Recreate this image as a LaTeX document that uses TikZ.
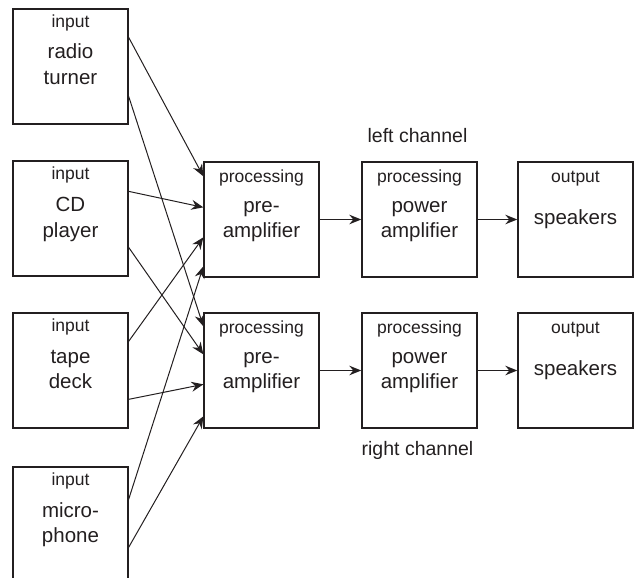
\documentclass[tikz,border=0pt]{standalone}
\usepackage{fontspec}
\setmainfont{Liberation Sans}
\usetikzlibrary{arrows.meta,calc}
\definecolor{ink}{RGB}{35,31,32}
\begin{document}
\begin{tikzpicture}[x=1pt,y=1pt,
  box/.style={draw=ink,line width=1.3pt,minimum width=115pt,minimum height=115pt,inner sep=0pt,fill=none},
  small/.style={anchor=base,inner sep=0pt,text=ink,font=\fontsize{17.5}{20}\selectfont},
  big/.style={anchor=base,inner sep=0pt,text=ink,font=\fontsize{20.5}{24}\selectfont},
  feed/.style={draw=ink,line width=1pt,-{Stealth[length=12pt,width=10pt,inset=4pt]}},
  chain/.style={draw=ink,line width=1.8pt,-{Stealth[length=12pt,width=9.5pt,inset=4pt]}}]
\useasboundingbox (0,0) rectangle (634,-581);
% input boxes
\node[box] (radio) at (70.5,-66.5) {};
\node[box] (cd) at (70.5,-218.5) {};
\node[box] (tape) at (70.5,-370.5) {};
\begin{scope}
\clip (0,0) rectangle (634,-577);
\node[box] (mic) at (70.5,-524.5) {};
\end{scope}
% processing and output boxes
\node[box] (preL) at (261.5,-219.5) {};
\node[box] (preR) at (261.5,-370.5) {};
\node[box] (powL) at (419.5,-219.5) {};
\node[box] (powR) at (419.5,-370.5) {};
\node[box] (spkL) at (575.5,-219.5) {};
\node[box] (spkR) at (575.5,-370.5) {};
% texts
\node[small] (radioK) at ($(radio.north)+(0,-19)$) {input};
\node[big] (radioA) at ($(radio.north)+(0,-50)$) {radio};
\node[big] (radioB) at ($(radio.north)+(0,-76)$) {turner};
\node[small] (cdK) at ($(cd.north)+(0,-19)$) {input};
\node[big] (cdA) at ($(cd.north)+(0,-51)$) {CD};
\node[big] (cdB) at ($(cd.north)+(0,-77)$) {player};
\node[small] (tapeK) at ($(tape.north)+(0,-19)$) {input};
\node[big] (tapeA) at ($(tape.north)+(0,-51)$) {tape};
\node[big] (tapeB) at ($(tape.north)+(0,-76)$) {deck};
\node[small] (micK) at ($(mic.north)+(0,-19)$) {input};
\node[big] (micA) at ($(mic.north)+(0,-51)$) {micro-};
\node[big] (micB) at ($(mic.north)+(0,-76)$) {phone};
\node[small] (preLK) at ($(preL.north)+(0,-21)$) {processing};
\node[big] (preLA) at ($(preL.north)+(0,-51)$) {pre-};
\node[big] (preLB) at ($(preL.north)+(0,-76)$) {amplifier};
\node[small] (preRK) at ($(preR.north)+(0,-21)$) {processing};
\node[big] (preRA) at ($(preR.north)+(0,-51)$) {pre-};
\node[big] (preRB) at ($(preR.north)+(0,-76)$) {amplifier};
\node[small] (powLK) at ($(powL.north)+(0,-21)$) {processing};
\node[big] (powLA) at ($(powL.north)+(0,-51)$) {power};
\node[big] (powLB) at ($(powL.north)+(0,-76)$) {amplifier};
\node[small] (powRK) at ($(powR.north)+(0,-21)$) {processing};
\node[big] (powRA) at ($(powR.north)+(0,-51)$) {power};
\node[big] (powRB) at ($(powR.north)+(0,-76)$) {amplifier};
\node[small] (spkLK) at ($(spkL.north)+(0,-21)$) {output};
\node[big] (spkLA) at ($(spkL.north)+(0,-63)$) {speakers};
\node[small] (spkRK) at ($(spkR.north)+(0,-21)$) {output};
\node[big] (spkRA) at ($(spkR.north)+(0,-63)$) {speakers};
\node[big,font=\fontsize{19.5}{23}\selectfont] (leftch) at ($(powL.north)+(-2,19)$) {left channel};
\node[big,font=\fontsize{19.5}{23}\selectfont] (rightch) at ($(powR.south)+(-2,-27)$) {right channel};
% feeds into pre-amplifiers
\draw[feed] ($(radio.north east)+(0,-29)$) -- ($(preL.north west)+(0,-15)$);
\draw[feed] ($(radio.north east)+(0,-88)$) -- ($(preR.north west)+(0,-14)$);
\draw[feed] ($(cd.north east)+(0,-31)$) -- ($(preL.north west)+(0,-46)$);
\draw[feed] ($(cd.north east)+(0,-87)$) -- ($(preR.north west)+(0,-42)$);
\draw[feed] ($(tape.north east)+(0,-29)$) -- ($(preL.north west)+(0,-76)$);
\draw[feed] ($(tape.north east)+(0,-87)$) -- ($(preR.north west)+(0,-72)$);
\draw[feed] ($(mic.north east)+(0,-33)$) -- ($(preL.north west)+(0,-105)$);
\draw[feed] ($(mic.north east)+(0,-81)$) -- ($(preR.north west)+(0,-104)$);
% chains
\draw[chain] (preL.east) -- (powL.west);
\draw[chain] (powL.east) -- (spkL.west);
\draw[chain] (preR.east) -- (powR.west);
\draw[chain] (powR.east) -- (spkR.west);
\end{tikzpicture}
\end{document}
